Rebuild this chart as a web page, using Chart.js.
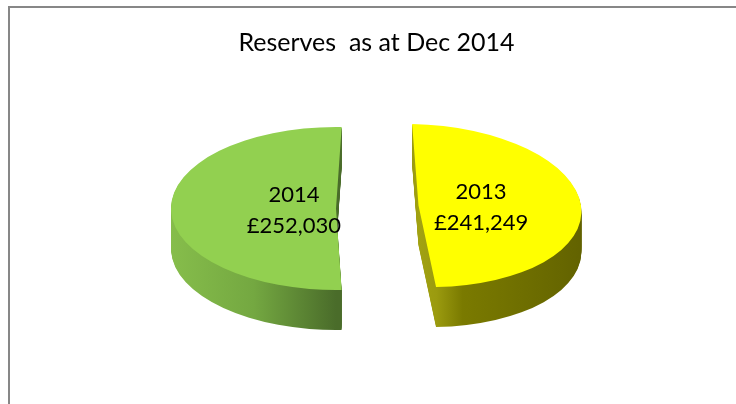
<!DOCTYPE html>
<html lang="en">
<head>
<meta charset="UTF-8">
<script src="https://cdn.jsdelivr.net/npm/chart.js"></script>
<title>Reserves</title>
<style>
  body{margin:0; background:#fff;}
  #wrap{position:relative; width:736px; height:404px; overflow:hidden;}
  #frame{position:absolute; left:8px; top:6px; width:800px; height:500px; border:2px solid #878787;}
  #myChart{position:absolute; left:0; top:0;}
</style>
</head>
<body>
<div id="wrap">
  <div id="frame"></div>
  <canvas id="myChart" width="736" height="404"></canvas>
</div>
<script>
// data
const labels = ['2013', '2014'];
const reserves = [241249, 252030];
const topColors = ['#ffff00', '#92d050'];
// side shading (stops across the pie width, left -> right)
const sideStops = [
  [[0.5, '#a2a212'], [0.6, '#7a7a00'], [1, '#626200']],
  [[0, '#86bd4b'], [0.25, '#74a841'], [0.5, '#4a6c2a']]
];

// fake 3d pie: squash each arc into an ellipse, stack copies for the depth
const pie3d = {
  id: 'pie3d',
  place(chart, arc, i, o) {
    const mid = (arc.startAngle + arc.endAngle) / 2;
    return {
      mid: mid,
      x: o.cx + o.explode * Math.cos(mid),
      y: o.cy - o.lift[i] + o.explode * Math.sin(mid) * o.ry / o.rx[i]
    };
  },
  beforeDatasetsDraw(chart, args, o) {
    const ctx = chart.ctx;
    const meta = chart.getDatasetMeta(0);
    meta.data.forEach((arc, i) => {
      const R = arc.outerRadius;
      const p = this.place(chart, arc, i, o);
      for (let dz = o.depth; dz >= 0; dz--) {
        ctx.save();
        ctx.translate(p.x, p.y + dz);
        ctx.transform(1, 0, o.skew[i], 1, 0, 0);
        ctx.scale(o.rx[i] / R, o.ry / R);
        ctx.translate(-arc.x, -arc.y);
        let fill = topColors[i];
        if (dz > 0) {
          fill = ctx.createLinearGradient(arc.x - R, 0, arc.x + R, 0);
          sideStops[i].forEach(s => fill.addColorStop(s[0], s[1]));
        }
        const layer = Object.create(arc);
        layer.options = Object.assign({}, arc.options, {backgroundColor: fill, borderWidth: 0, offset: 0});
        layer.draw(ctx);
        ctx.restore();
      }
    });
    return false;
  },
  afterDraw(chart, args, o) {
    const ctx = chart.ctx;
    const meta = chart.getDatasetMeta(0);
    ctx.save();
    ctx.fillStyle = '#000';
    ctx.font = '22px Lato';
    ctx.textAlign = 'center';
    ctx.textBaseline = 'middle';
    meta.data.forEach((arc, i) => {
      const p = this.place(chart, arc, i, o);
      const lx = p.x + o.labelPos[i] * Math.cos(p.mid) * o.rx[i];
      const ly = p.y + o.labelPos[i] * Math.sin(p.mid) * o.ry + 2;
      ctx.fillText(labels[i], lx, ly - 15.5);
      ctx.fillText('£' + reserves[i].toLocaleString('en-GB'), lx, ly + 15.5);
    });
    ctx.restore();
  }
};

new Chart(document.getElementById('myChart'), {
  type: 'pie',
  data: {
    labels: labels,
    datasets: [{
      data: reserves,
      backgroundColor: topColors,
      borderWidth: 0
    }]
  },
  options: {
    responsive: false,
    animation: false,
    rotation: 1.97,
    layout: {padding: {left: 17}},
    plugins: {
      legend: {display: false},
      tooltip: {enabled: false},
      title: {
        display: true,
        text: 'Reserves  as at Dec 2014',
        color: '#000',
        font: {family: 'Lato', size: 25, weight: 'normal'},
        padding: {top: 28, bottom: 10}
      },
      pie3d: {cx: 377.25, cy: 208.5, rx: [162.5, 165], ry: 81.5, depth: 40, explode: 41.25,
              lift: [3, 0], skew: [0.147, 0], labelPos: [0.385, 0.255]}
    }
  },
  plugins: [pie3d]
});
</script>
</body>
</html>
